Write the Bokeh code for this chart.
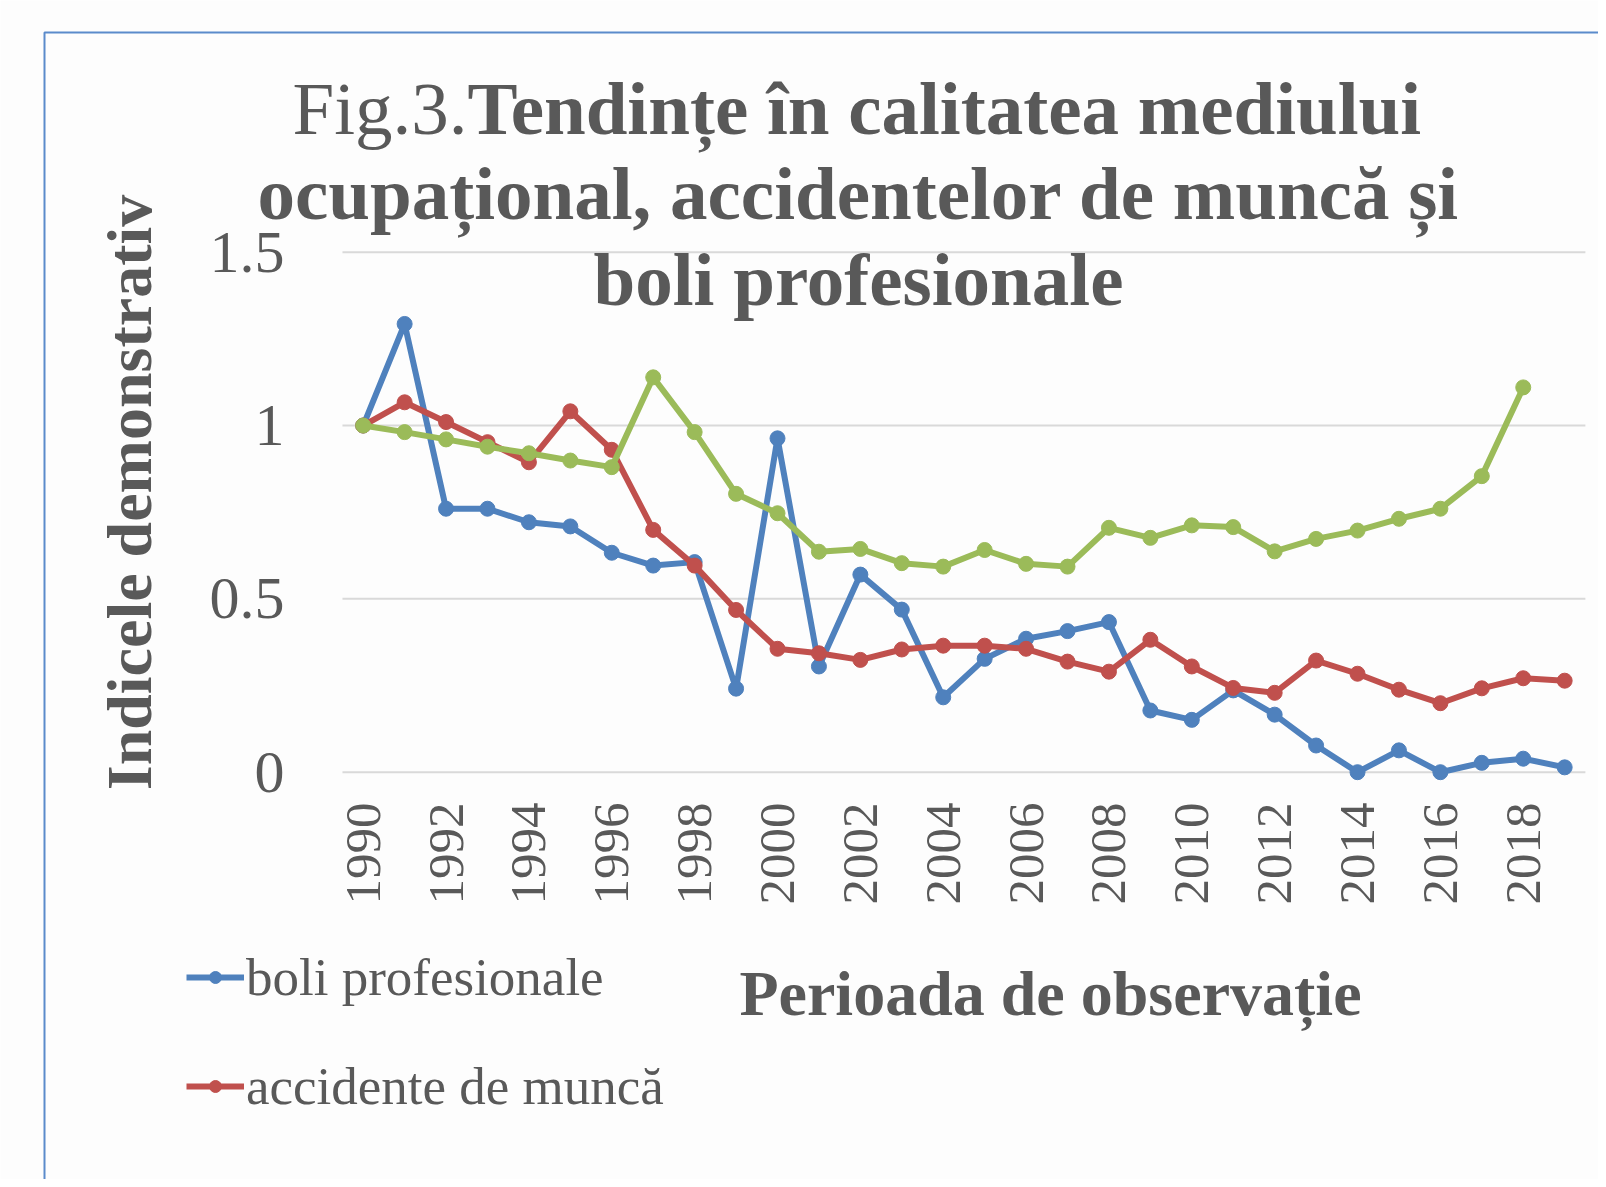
import math
from bokeh.plotting import figure
from bokeh.models import (FixedTicker, Label, Legend, LegendItem, BoxAnnotation,
                          CustomJSTickFormatter, Range1d)
from bokeh.embed import file_html
from bokeh.resources import INLINE

# ---------------- data ----------------
years = list(range(1990, 2020))
boli_profesionale = [1.0, 1.293, 0.760, 0.760, 0.721, 0.709, 0.633, 0.596, 0.606, 0.241,
                     0.963, 0.305, 0.570, 0.469, 0.216, 0.327, 0.385, 0.407, 0.433, 0.178,
                     0.151, 0.236, 0.166, 0.077, 0.0, 0.063, 0.0, 0.027, 0.039, 0.014]
accidente_de_munca = [1.0, 1.067, 1.010, 0.952, 0.894, 1.041, 0.930, 0.699, 0.596, 0.468,
                      0.356, 0.343, 0.324, 0.354, 0.365, 0.365, 0.356, 0.319, 0.290, 0.382,
                      0.305, 0.243, 0.229, 0.322, 0.284, 0.238, 0.199, 0.242, 0.271, 0.264]
years_mediu = list(range(1990, 2019))
mediu_ocupational = [1.0, 0.981, 0.960, 0.939, 0.920, 0.899, 0.880, 1.139, 0.981, 0.803,
                     0.747, 0.636, 0.644, 0.603, 0.593, 0.641, 0.601, 0.593, 0.705, 0.676,
                     0.712, 0.707, 0.637, 0.673, 0.697, 0.731, 0.760, 0.854, 1.110]
x_ticks = list(range(1990, 2019, 2))
y_ticks = [0, 0.5, 1, 1.5]

title_line1a = "Fig.3."
title_line1b = "Tendințe în calitatea mediului"
title_line2 = "ocupațional, accidentelor de muncă și"
title_line3 = "boli profesionale"
y_title = "Indicele demonstrativ"
x_title = "Perioada de observație"

# ---------------- style / geometry ----------------
BLUE = "#4F81BD"
RED = "#C0504D"
GREEN = "#9BBB59"
TXT = "#595959"
BG = "#FDFDFD"
SERIF = "Liberation Serif"

W, H = 1598, 1179               # canvas size
PX_YEAR = 41.43                 # pixels per year
PX_UNIT = 346.67                # pixels per index unit
X0_CANVAS = 362.7               # canvas x of first category (1990)
Y0_CANVAS = 771.7               # canvas y of value 0
TXT_SHIFT = 24                  # baseline correction for labels

x_start = years[0] - X0_CANVAS / PX_YEAR
x_end = x_start + W / PX_YEAR
y_end = Y0_CANVAS / PX_UNIT
y_start = y_end - H / PX_UNIT

plot_left = years[0] - 0.5          # left edge of plot area (data)
plot_right = years[-1] + 0.5        # right edge of plot area (data)
axis_y = -(792 - Y0_CANVAS) / PX_UNIT   # where the category axis sits

p = figure(output_backend="svg", toolbar_location=None,
           width=W, height=H, min_border=0,
           x_range=Range1d(x_start, x_end), y_range=Range1d(y_start, y_end))
p.background_fill_color = BG
p.border_fill_color = BG
p.outline_line_color = None
p.xgrid.visible = False
p.ygrid.visible = False

# axes drawn at fixed positions inside the canvas
p.xaxis.fixed_location = axis_y
p.xaxis.ticker = FixedTicker(ticks=x_ticks)
p.xaxis.major_label_orientation = math.pi / 2
p.xaxis.major_label_text_font = SERIF
p.xaxis.major_label_text_font_size = "51px"
p.xaxis.major_label_text_color = TXT
p.xaxis.major_tick_out = 0
p.xaxis.major_tick_in = 0
p.xaxis.minor_tick_out = 0
p.xaxis.minor_tick_in = 0
p.xaxis.major_label_standoff = 10
p.xaxis.axis_line_color = None

p.yaxis.fixed_location = plot_left
p.yaxis.ticker = FixedTicker(ticks=y_ticks)
p.yaxis.formatter = CustomJSTickFormatter(code="return String(tick);")
p.yaxis.major_label_text_font = SERIF
p.yaxis.major_label_text_font_size = "60px"
p.yaxis.major_label_text_color = TXT
p.yaxis.major_tick_out = 0
p.yaxis.major_tick_in = 0
p.yaxis.minor_tick_out = 0
p.yaxis.minor_tick_in = 0
p.yaxis.major_label_standoff = 58
p.yaxis.axis_line_color = None

# horizontal gridlines limited to the plot area
p.segment(x0=[plot_left] * len(y_ticks), x1=[plot_right] * len(y_ticks),
          y0=y_ticks, y1=y_ticks, line_color="#D9D9D9", line_width=2)

# series
lb = p.line(years, boli_profesionale, line_color=BLUE, line_width=6)
sb = p.scatter(years, boli_profesionale, size=15, fill_color=BLUE, line_color=BLUE)
lr = p.line(years, accidente_de_munca, line_color=RED, line_width=6)
sr = p.scatter(years, accidente_de_munca, size=15, fill_color=RED, line_color=RED)
lg = p.line(years_mediu, mediu_ocupational, line_color=GREEN, line_width=6)
sg = p.scatter(years_mediu, mediu_ocupational, size=15, fill_color=GREEN, line_color=GREEN)

# chart border (partially visible, extends past the picture)
p.add_layout(BoxAnnotation(left=44, right=W + 50, top=H - 32, bottom=-50,
                           left_units="screen", right_units="screen",
                           top_units="screen", bottom_units="screen",
                           fill_alpha=0, line_color="#5B8BCB", line_alpha=1.0,
                           line_width=2))

def lab(text, page_x, page_y, size, bold, align="center", vertical=False):
    if vertical:
        x, y, angle = page_x - TXT_SHIFT, H - page_y, math.pi / 2
    else:
        x, y, angle = page_x, H - page_y + TXT_SHIFT, 0.0
    p.add_layout(Label(x=x, y=y, x_units="screen", y_units="screen",
                       text=text, text_font=SERIF, text_font_size=size,
                       text_font_style="bold" if bold else "normal",
                       text_color=TXT, text_align=align, text_baseline="alphabetic",
                       angle=angle))

lab(title_line1a, 467, 132, "75px", False, align="right")
lab(title_line1b, 467, 132, "75px", True, align="left")
lab(title_line2, 858, 217, "75px", True)
lab(title_line3, 858, 303, "75px", True)
lab(y_title, 153, 492, "64px", True, vertical=True)
lab(x_title, 1050, 1017, "64px", True)

legend = Legend(items=[LegendItem(label="boli profesionale", renderers=[lb, sb]),
                       LegendItem(label="accidente de muncă", renderers=[lr, sr])],
                location=(186, H - 1116), orientation="vertical",
                label_text_font=SERIF, label_text_font_size="53px",
                label_text_color=TXT, glyph_width=58, glyph_height=30,
                label_standoff=2, spacing=49, padding=0, margin=0,
                border_line_color=None, background_fill_alpha=0)
p.add_layout(legend)

open("out.html", "w").write(file_html(p, INLINE))
